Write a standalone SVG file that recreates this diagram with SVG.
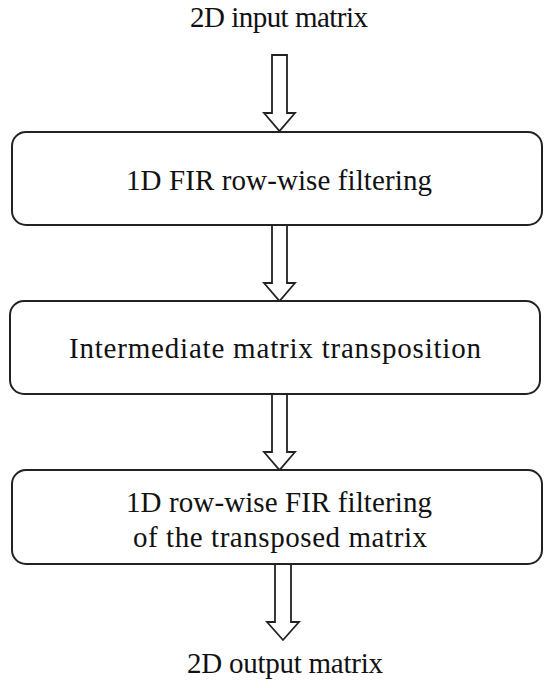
<svg xmlns="http://www.w3.org/2000/svg" width="550" height="688" viewBox="0 0 550 688">
<style>
.box{fill:#fff;stroke:#222;stroke-width:2}
.arr{fill:#fff;stroke:#222;stroke-width:1.8;stroke-linejoin:miter}
text{font-family:"Liberation Serif","DejaVu Serif",serif;font-size:29px;fill:#111;text-anchor:middle}
</style>
<rect width="550" height="688" fill="#fff"/>
<g id="input"><text x="279" y="27" textLength="178">2D input matrix</text></g>
<g id="connectors">
<path class="arr" d="M272,55 H287 V113 H295 L279.5,131 L264,113 H272 Z"/>
<path class="arr" d="M272,225 H287 V283 H295 L279.5,301 L264,283 H272 Z"/>
<path class="arr" d="M272,394 H287 V452 H295 L279.5,470 L264,452 H272 Z"/>
<path class="arr" d="M275,564 H291 V622 H299 L283,640 L267,622 H275 Z"/>
</g>
<g id="step1"><rect class="box" x="12" y="132" width="530" height="93" rx="14"/><text x="279" y="190" textLength="306">1D FIR row-wise filtering</text></g>
<g id="step2"><rect class="box" x="10" y="301" width="530" height="93" rx="14"/><text x="275" y="358" textLength="412">Intermediate matrix transposition</text></g>
<g id="step3"><rect class="box" x="12" y="470" width="530" height="94" rx="14"/><text x="279" y="512" textLength="306">1D row-wise FIR filtering</text><text x="280" y="547" textLength="294">of the transposed matrix</text></g>
<g id="output"><text x="285" y="673" textLength="196">2D output matrix</text></g>
</svg>
